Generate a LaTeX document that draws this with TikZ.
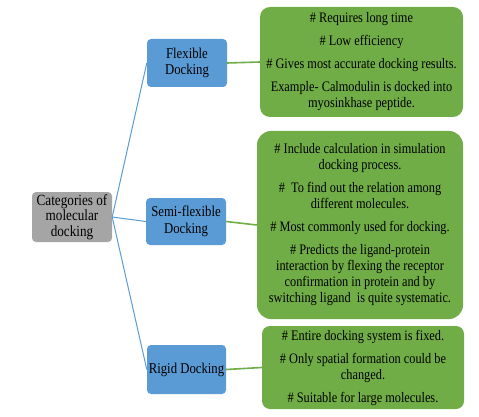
\documentclass[tikz,border=0pt]{standalone}
\usepackage{fontspec}
\setmainfont{Liberation Serif}[FakeStretch=0.85]
\usetikzlibrary{positioning}
\definecolor{catgrey}{HTML}{A5A5A5}
\definecolor{typblue}{HTML}{5B9BD5}
\definecolor{infgreen}{HTML}{70AD47}
\tikzset{
  cat/.style ={rectangle, rounded corners=4pt, fill=catgrey, text=black,
               align=center, font=\rmfamily\fontsize{15.5}{15.5}\selectfont,
               minimum width=80pt, minimum height=50pt, inner sep=1pt},
  typ/.style ={rectangle, rounded corners=4pt, fill=typblue, text=black,
               align=center, font=\rmfamily\fontsize{15}{16.5}\selectfont,
               minimum width=80pt, minimum height=48pt, inner sep=1pt},
  inf/.style ={rectangle, rounded corners=10pt, fill=infgreen, text=black,
               align=center, font=\rmfamily\fontsize{14.5}{16}\selectfont,
               minimum width=203pt, inner sep=1pt},
  lnb/.style ={draw=typblue, line width=1pt},
  lng/.style ={draw=infgreen, line width=1.6pt}
}
\begin{document}
\begin{tikzpicture}[x=1pt,y=-1pt]
  \useasboundingbox (0,0) rectangle (479,417);
  \node[cat] (root) at (72,217) {Categories of\\molecular\\docking};

  \node[typ] (flex)  at (187,63)    {Flexible\\Docking};
  \node[typ,minimum height=47pt] (semi) at (186,221.5) {Semi-flexible\\Docking};
  \node[typ,minimum width=79pt,minimum height=49pt] (rigid) at (186.5,369.5) {Rigid Docking};

  \node[inf,minimum height=110pt] (fxinfo) at (361.5,62)
    {\# Requires long time\\[7pt]\# Low efficiency\\[7pt]\# Gives most accurate docking results.\\[7pt]Example- Calmodulin is docked into\\myosinkhase peptide.};
  \node[inf,minimum width=206pt,minimum height=188pt,rounded corners=14pt] (sminfo) at (360,225)
    {\# Include calculation in simulation\\docking process.\\[7pt]\#\ \ To find out the relation among\\different molecules.\\[7pt]\# Most commonly used for docking.\\[7pt]\# Predicts the ligand-protein\\interaction by flexing the receptor\\confirmation in protein and by\\switching ligand\ \ is quite systematic.};
  \node[inf,minimum width=202pt,minimum height=83pt,rounded corners=8pt] (rginfo) at (363,367.5)
    {\# Entire docking system is fixed.\\[7pt]\# Only spatial formation could be\\changed.\\[7pt]\# Suitable for large molecules.};

  \draw[lnb] (root.east)--(flex.west);
  \draw[lnb] (root.east)--(semi.west);
  \draw[lnb] (root.east)--(rigid.west);
  \draw[lng] (flex.east)--(fxinfo.west);
  \draw[lng] (semi.east)--(sminfo.west);
  \draw[lng] (rigid.east)--(rginfo.west);
\end{tikzpicture}
\end{document}
